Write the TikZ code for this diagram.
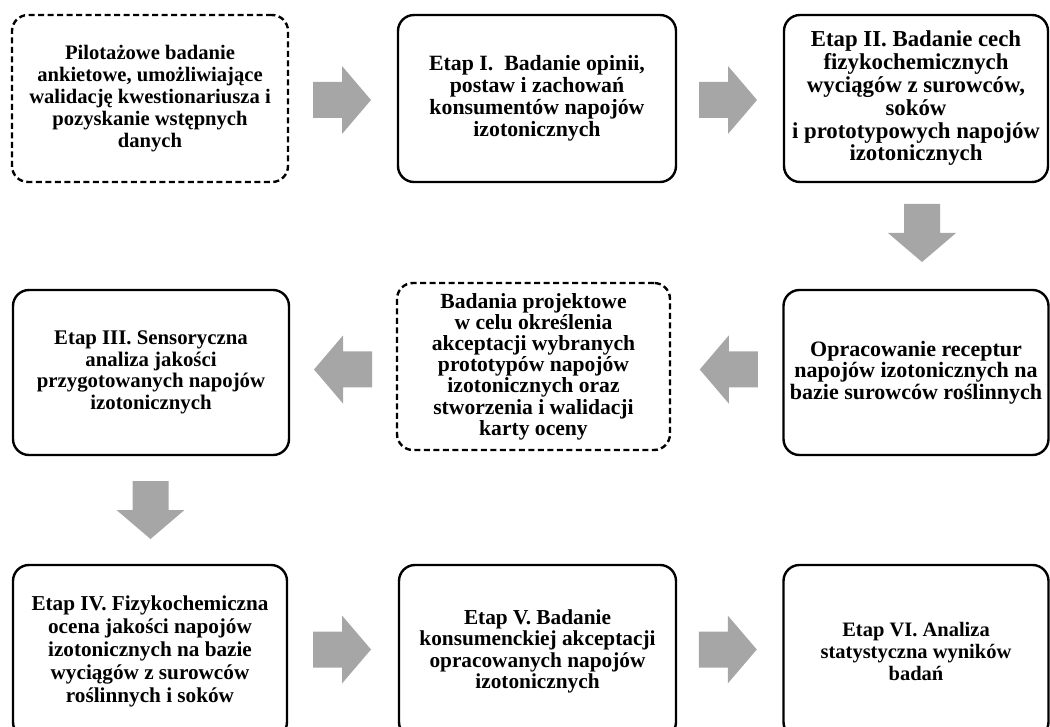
\documentclass[tikz,border=0pt]{standalone}
\usepackage{fontspec}
\setmainfont{Liberation Serif}
\usetikzlibrary{calc}
\definecolor{arrowgray}{HTML}{A6A6A6}
\newcommand\bxfont[2]{\fontsize{#1}{#2}\selectfont\bfseries}
\tikzset{
  box/.style={draw, line width=2.4pt, rounded corners=16pt, align=center, inner sep=0pt},
  dbox/.style={box, dash pattern=on 6pt off 3.5pt},
  barrow/.pic={\fill[arrowgray] (-29,-18) -- (0,-18) -- (0,-34) -- (29,0) -- (0,34) -- (0,18) -- (-29,18) -- cycle;}
}
\begin{document}
\begin{tikzpicture}[x=1pt,y=-1pt]
\useasboundingbox (0,0) rectangle (1050,727);
% row 1
\node[dbox, minimum width=276pt, minimum height=167pt, font=\bxfont{20.6}{22.2}] (b1) at (150,98.5)
  {Pilotażowe badanie\\ankietowe, umożliwiające\\walidację kwestionariusza i\\pozyskanie wstępnych\\danych};
\node[box, minimum width=278pt, minimum height=167pt, font=\bxfont{21.8}{22}] (b2) at (537,98.5)
  {Etap I.\ \ Badanie opinii,\\postaw i zachowań\\konsumentów napojów\\izotonicznych};
\node[box, minimum width=264pt, minimum height=167pt, font=\bxfont{22.8}{22.8}] (b3) at (916,98.5)
  {Etap II. Badanie cech\\fizykochemicznych\\wyciągów z surowców,\\soków\\i prototypowych napojów\\izotonicznych};
% row 2
\node[box, minimum width=276pt, minimum height=165pt, font=\bxfont{20.8}{21.7}] (b4) at (151,372.5)
  {Etap III. Sensoryczna\\analiza jakości\\przygotowanych napojów\\izotonicznych};
\node[dbox, minimum width=273pt, minimum height=167pt, font=\bxfont{21.6}{21.2}] (b5) at (533.5,366.5)
  {Badania projektowe\\w celu określenia\\akceptacji wybranych\\prototypów napojów\\izotonicznych oraz\\stworzenia i walidacji\\karty oceny};
\node[box, minimum width=265pt, minimum height=165pt, font=\bxfont{22}{21.5}] (b6) at (916,372.5)
  {Opracowanie receptur\\napojów izotonicznych na\\bazie surowców roślinnych};
% row 3
\node[box, minimum width=274pt, minimum height=173pt, font=\bxfont{21.2}{23}] (b7) at (150,651.5)
  {Etap IV. Fizykochemiczna\\ocena jakości napojów\\izotonicznych na bazie\\wyciągów z surowców\\roślinnych i soków};
\node[box, minimum width=277pt, minimum height=173pt, font=\bxfont{21.3}{21.5}] (b8) at (537.5,651.5)
  {Etap V. Badanie\\konsumenckiej akceptacji\\opracowanych napojów\\izotonicznych};
\node[box, minimum width=265pt, minimum height=173pt, font=\bxfont{20.5}{22}] (b9) at (916,651.5)
  {Etap VI. Analiza\\statystyczna wyników\\badań};
% block arrows
\pic at ($(b1.east)!0.5!(b2.west)+(-1,1.5)$) {barrow};
\pic at ($(b2.east)!0.5!(b3.west)+(-2,1.5)$) {barrow};
\pic[rotate=-90] at ($(b3.south)!0.5!(b6.north)+(6,-3)$) {barrow};
\pic[rotate=180] at ($(b6.west)!0.5!(b5.east)+(2,0)$) {barrow};
\pic[rotate=180] at ($(b5.west)!0.5!(b4.east)$) {barrow};
\pic[rotate=-90] at ($(b4.south)!0.5!(b7.north)$) {barrow};
\pic at ($(b7.east)!0.5!(b8.west)+(-1,-2)$) {barrow};
\pic at ($(b8.east)!0.5!(b9.west)+(-2,-2)$) {barrow};
\end{tikzpicture}
\end{document}
